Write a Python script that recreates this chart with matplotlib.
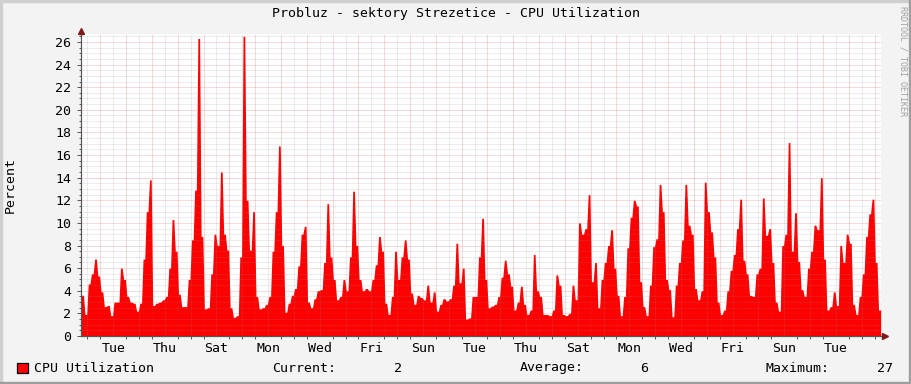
import numpy as np
import matplotlib
matplotlib.use("Agg")
import matplotlib.pyplot as plt
from matplotlib.patches import Rectangle

# ---------------- data ----------------
title = "Probluz - sektory Strezetice - CPU Utilization"
ylabel = "Percent"
series_name = "CPU Utilization"
watermark = "RRDTOOL / TOBI OETIKER"
step_hours = 3          # one sample every 3 hours, starting Monday ~06:00
first_midnight = 18     # hours from start to the first midnight (Tuesday 00:00)
first_label_noon = 30   # Tuesday noon
day_labels = ["Tue", "Thu", "Sat", "Mon", "Wed", "Fri", "Sun", "Tue",
              "Thu", "Sat", "Mon", "Wed", "Fri", "Sun", "Tue"]
y_top = 26.7
stat_names = ["Current:", "Average:", "Maximum:"]
stat_values = ["2", "6", "27"]

cpu = [
    3.6, 1.9, 4.6, 5.5, 6.8, 5.3, 3.9, 2.6,
    2.7, 1.8, 3.0, 3.0, 6.0, 5.0, 3.5, 3.0,
    2.9, 2.2, 2.9, 6.8, 11.0, 13.8, 2.7, 2.9,
    3.0, 3.2, 3.5, 6.0, 10.3, 7.5, 3.7, 2.6,
    2.6, 5.0, 8.5, 12.9, 26.3, 8.8, 2.4, 2.5,
    5.5, 9.0, 8.0, 14.5, 9.0, 7.6, 2.5, 1.65,
    1.8, 7.0, 26.5, 12.0, 7.6, 11.0, 3.5, 2.4,
    2.5, 2.8, 3.5, 7.5, 11.0, 16.8, 8.0, 2.1,
    2.9, 3.6, 4.2, 6.2, 9.0, 9.7, 3.0, 2.5,
    3.3, 4.0, 4.1, 6.5, 11.7, 7.0, 5.0, 3.2,
    3.5, 5.0, 4.0, 7.0, 12.8, 8.0, 5.0, 4.0,
    4.2, 4.0, 5.0, 6.3, 8.8, 7.5, 2.9, 1.9,
    3.5, 7.5, 5.0, 7.0, 8.5, 6.8, 3.8, 2.8,
    3.6, 3.4, 3.2, 4.5, 3.0, 3.9, 2.2, 2.8,
    3.3, 3.1, 3.3, 4.5, 8.2, 4.7, 6.0, 1.5,
    1.6, 3.5, 3.5, 7.0, 10.4, 5.0, 2.5, 2.65,
    2.8, 3.5, 5.2, 6.7, 5.5, 4.4, 2.3, 3.0,
    4.4, 2.8, 1.9, 2.3, 7.2, 4.0, 3.5, 1.9,
    1.9, 1.8, 2.3, 5.4, 4.5, 1.9, 1.8, 2.0,
    4.5, 3.2, 10.0, 9.0, 9.5, 12.5, 4.8, 6.5,
    2.5, 5.0, 6.5, 8.0, 9.4, 6.0, 3.6, 1.8,
    3.5, 7.8, 10.5, 12.0, 11.5, 4.8, 2.6, 1.8,
    4.5, 7.9, 8.6, 13.4, 11.0, 5.0, 4.1, 1.7,
    4.5, 6.5, 8.5, 13.4, 9.8, 9.0, 4.2, 3.2,
    4.0, 13.6, 11.0, 9.2, 7.0, 3.0, 1.9, 2.3,
    4.0, 5.8, 7.2, 9.5, 12.1, 6.7, 5.5, 3.6,
    3.5, 5.5, 6.0, 12.2, 8.9, 9.5, 6.5, 3.0,
    2.2, 8.0, 9.0, 17.1, 7.5, 10.9, 6.6, 4.1,
    3.5, 6.0, 7.5, 9.8, 9.4, 14.0, 6.8, 2.3,
    2.6, 3.9, 2.7, 8.0, 6.5, 9.0, 8.2, 2.8,
    1.9, 3.5, 5.5, 8.8, 10.8, 12.1, 6.5, 2.3,
]

# ---------------- figure ----------------
W, H = 911, 384
def fx(px):
    return px / W
def fy(py):
    return 1 - py / H

FONT = "DejaVu Sans Mono"
FS = 9.5
plt.rcParams["font.family"] = [FONT]

fig = plt.figure(figsize=(W / 100, H / 100), dpi=100, facecolor="#F3F3F3")

# 3D-style outer frame
fig.patches.append(Rectangle((0, fy(2)), 1, 2 / H, transform=fig.transFigure,
                             color="#CFCFCF", zorder=0))
fig.patches.append(Rectangle((0, 0), 2 / W, 1, transform=fig.transFigure,
                             color="#CFCFCF", zorder=0))
fig.patches.append(Rectangle((0, 0), 1, 2 / H, transform=fig.transFigure,
                             color="#9E9E9E", zorder=0))
fig.patches.append(Rectangle((1 - 2 / W, 0), 2 / W, 1, transform=fig.transFigure,
                             color="#9E9E9E", zorder=0))

ax = fig.add_axes([fx(81), fy(336), (881 - 81) / W, (336 - 34) / H])
ax.set_facecolor("white")

# each sample drawn as a short plateau with steep transitions (rrdtool-like area)
n = len(cpu)
t_end = n * step_hours
starts = np.arange(n) * step_hours
edge = 0.7
t = np.ravel(np.column_stack([starts + edge, starts + step_hours - edge]))
v = np.repeat(np.array(cpu, dtype=float), 2)
t = np.concatenate([[0], t, [t_end - 0.3]])
v = np.concatenate([[cpu[0]], v, [cpu[-1]]])
ax.fill_between(t, 0, v, color="#FF0000", linewidth=0, zorder=1)

ax.set_xlim(0, t_end)
ax.set_ylim(0, y_top)

# grid (drawn on top, translucent, dotted)
minor_c = (0.55, 0.55, 0.55, 0.32)
major_c = (0.80, 0.18, 0.18, 0.35)
dot = (0, (1, 1))
for yv in np.arange(0.5, y_top, 0.5):
    if abs(yv / 2 - round(yv / 2)) < 1e-6:
        ax.axhline(yv, color=major_c, lw=0.72, ls=dot, zorder=2)
    else:
        ax.axhline(yv, color=minor_c, lw=0.72, ls=dot, zorder=2)
midnights = np.arange(first_midnight, t_end, 24)
noons = np.arange(first_midnight - 12, t_end, 24)
for xv in noons:
    ax.axvline(xv, color=minor_c, lw=0.72, ls=dot, zorder=2)
for xv in midnights:
    ax.axvline(xv, color=major_c, lw=0.72, ls=dot, zorder=2)

# axes / ticks
for s in ["top", "right"]:
    ax.spines[s].set_visible(False)
for s in ["left", "bottom"]:
    ax.spines[s].set_color("#555555")
    ax.spines[s].set_linewidth(0.8)
    ax.spines[s].set_zorder(3)

yt = np.arange(0, 27, 2)
ax.set_yticks(yt)
ax.set_yticklabels([str(int(y)) for y in yt], fontsize=FS, family=FONT)
ax.set_yticks(np.arange(0, y_top, 0.5), minor=True)
ax.tick_params(axis="y", which="major", length=3, width=0.7, color="#555555", pad=4)
ax.tick_params(axis="y", which="minor", length=1.5, width=0.7, color="#555555")

label_pos = first_label_noon + 48 * np.arange(len(day_labels))
ax.set_xticks(label_pos)
ax.set_xticklabels(day_labels, fontsize=FS, family=FONT)
ax.set_xticks(np.concatenate([midnights, noons]), minor=True)
ax.tick_params(axis="x", which="major", length=0, pad=4)
ax.tick_params(axis="x", which="minor", length=2.5, width=0.7, color="#555555")

# arrows at the axis ends
arrow_c = "#7F1A1A"
fig.lines.append(plt.Line2D([fx(81), fx(81)], [fy(336), fy(31)], transform=fig.transFigure,
                            color="#555555", lw=0.8, zorder=3))
fig.lines.append(plt.Line2D([fx(81), fx(884)], [fy(336), fy(336)], transform=fig.transFigure,
                            color="#555555", lw=0.8, zorder=3))
fig.lines.append(plt.Line2D([fx(81)], [fy(31)], transform=fig.transFigure, marker="^",
                            markersize=4.5, color=arrow_c, linestyle="none", zorder=4))
fig.lines.append(plt.Line2D([fx(885)], [fy(336)], transform=fig.transFigure, marker=">",
                            markersize=4.5, color=arrow_c, linestyle="none", zorder=4))

# texts
fig.text(0.5, fy(14), title, ha="center", va="center", fontsize=FS, family=FONT)
fig.text(fx(10), fy(185), ylabel, rotation=90, ha="center", va="center",
         fontsize=FS, family=FONT)
fig.text(fx(903), fy(61), watermark, rotation=-90, ha="center", va="center",
         fontsize=6.0, family=FONT, color="#A0A0A0")

# legend row
fig.patches.append(Rectangle((fx(17), fy(373)), 11 / W, 10 / H, transform=fig.transFigure,
                             facecolor="#FF0000", edgecolor="black", lw=0.9, zorder=3))
ly = fy(368)
fig.text(fx(34), ly, series_name, ha="left", va="center", fontsize=FS, family=FONT)
name_x = [272, 520, 765]
val_right = [402, 648, 893]
for nm, vx, val, vr in zip(stat_names, name_x, stat_values, val_right):
    fig.text(fx(vx), ly, nm, ha="left", va="center", fontsize=FS, family=FONT)
    fig.text(fx(vr), ly, val, ha="right", va="center", fontsize=FS, family=FONT)

fig.savefig("out.png", dpi=100, facecolor=fig.get_facecolor())
